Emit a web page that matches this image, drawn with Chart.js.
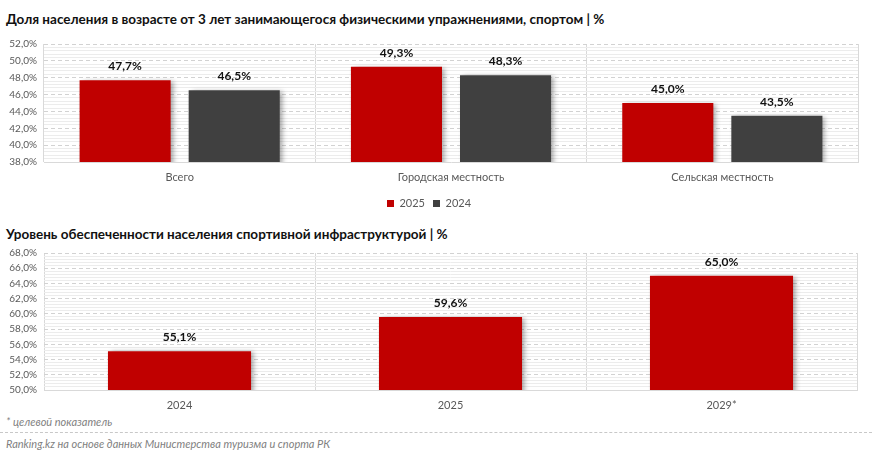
<!DOCTYPE html>
<html>
<head>
<meta charset="utf-8">
<script src="https://cdn.jsdelivr.net/npm/chart.js@4.4.1/dist/chart.umd.min.js"></script>
<style>
  body { margin: 0; width: 872px; height: 458px; background: #fff; position: relative; overflow: hidden; font-family: Lato, "Liberation Sans", sans-serif; }
  .title { position: absolute; left: 6px; font-weight: bold; font-size: 13.5px; color: #111; white-space: nowrap; }
  .note { position: absolute; left: 6px; font-style: italic; font-size: 11px; color: #7f7f7f; white-space: nowrap; }
  .box { position: absolute; left: 0; width: 872px; }
  #sep { position: absolute; left: 0; top: 432px; width: 872px; border-top: 1px dashed #c8c8c8; }
</style>
</head>
<body>
<div class="title" style="top:11px">Доля населения в возрасте от 3 лет занимающегося физическими упражнениями, спортом | %</div>
<div class="box" style="top:30px;height:189px"><canvas id="sport"></canvas></div>
<div class="title" style="top:226px">Уровень обеспеченности населения спортивной инфраструктурой | %</div>
<div class="box" style="top:240px;height:175px"><canvas id="infra"></canvas></div>
<div class="note" style="top:415px">* целевой показатель</div>
<div id="sep"></div>
<div class="note" style="top:437px">Ranking.kz на основе данных Министерства туризма и спорта РК</div>

<script>
// top chart
var groups = ['Всего', 'Городская местность', 'Сельская местность'];
var share2025 = [47.7, 49.3, 45.0];
var share2024 = [46.5, 48.3, 43.5];
var sportTicks = [38, 40, 42, 44, 46, 48, 50, 52];

// bottom chart
var infraYears = ['2024', '2025', '2029*'];
var infraValues = [55.1, 59.6, 65.0];
var infraTicks = [50, 52, 54, 56, 58, 60, 62, 64, 66, 68];

var minorStep = 0.4;
var RED = '#c00000';
var GREY = '#404040';

function pct(v) {
    return v.toFixed(1).replace('.', ',') + '%';
}

function isMajor(v, majors) {
    return majors.some(function (m) { return Math.abs(m - v) < 1e-6; });
}

var barShadow = {
    id: 'barShadow',
    beforeDatasetsDraw: function (chart) {
        var c = chart.ctx;
        c.save();
        c.shadowColor = 'rgba(0,0,0,0.35)';
        c.shadowBlur = 5;
        c.shadowOffsetX = 3;
        c.shadowOffsetY = 1;
    },
    afterDatasetsDraw: function (chart) {
        chart.ctx.restore();
    }
};

var valueLabels = {
    id: 'valueLabels',
    afterDatasetsDraw: function (chart) {
        var c = chart.ctx;
        c.save();
        c.font = 'bold 12px Lato, sans-serif';
        c.fillStyle = '#111';
        c.textAlign = 'center';
        c.textBaseline = 'middle';
        chart.data.datasets.forEach(function (ds, i) {
            chart.getDatasetMeta(i).data.forEach(function (bar, j) {
                c.fillText(pct(ds.data[j]), bar.x, bar.y - 14);
            });
        });
        c.restore();
    }
};

function yAxis(majors) {
    var lo = majors[0], hi = majors[majors.length - 1];
    return {
        min: lo,
        max: hi,
        afterBuildTicks: function (s) {
            var t = [];
            var n = Math.round((hi - lo) / minorStep);
            for (var i = 0; i <= n; i++) t.push({ value: +(lo + i * minorStep).toFixed(2) });
            s.ticks = t;
        },
        afterFit: function (s) { s.width = 44; },
        ticks: {
            autoSkip: false,
            padding: 7,
            color: '#595959',
            font: { size: 10, family: 'Lato' },
            callback: function (v) { return isMajor(v, majors) ? pct(v) : ''; }
        },
        grid: {
            drawTicks: false,
            color: function (ctx) {
                var v = ctx.tick.value;
                if (Math.abs(v - lo) < 1e-6) return 'rgba(0,0,0,0)';
                return isMajor(v, majors) ? '#d2d2d2' : '#ececec';
            }
        },
        border: {
            display: false,
            dash: function (ctx) { return isMajor(ctx.tick.value, majors) ? [4, 3] : []; }
        }
    };
}

function xAxis(h) {
    return {
        afterFit: function (s) { s.height = h; },
        grid: { offset: true, drawTicks: false, color: '#d9d9d9' },
        border: { color: '#d9d9d9' },
        ticks: { padding: 9, color: '#595959', font: { size: 11, family: 'Lato' } }
    };
}

new Chart(document.getElementById('sport'), {
    type: 'bar',
    data: {
        labels: groups,
        datasets: [
            { label: '2025', data: share2025, backgroundColor: RED, categoryPercentage: 0.804, barPercentage: 0.835 },
            { label: '2024', data: share2024, backgroundColor: GREY, categoryPercentage: 0.804, barPercentage: 0.835 }
        ]
    },
    options: {
        responsive: true,
        maintainAspectRatio: false,
        animation: false,
        layout: { padding: { top: 14, right: 14, left: 0, bottom: 0 } },
        plugins: {
            legend: {
                position: 'bottom',
                labels: { boxWidth: 7, boxHeight: 7, padding: 8, color: '#595959', font: { size: 11, family: 'Lato' } }
            },
            tooltip: { enabled: false }
        },
        scales: { x: xAxis(28), y: yAxis(sportTicks) }
    },
    plugins: [barShadow, valueLabels]
});

new Chart(document.getElementById('infra'), {
    type: 'bar',
    data: {
        labels: infraYears,
        datasets: [
            { label: 'infra', data: infraValues, backgroundColor: RED, categoryPercentage: 0.8, barPercentage: 0.66 }
        ]
    },
    options: {
        responsive: true,
        maintainAspectRatio: false,
        animation: false,
        layout: { padding: { top: 13, right: 15, left: 0, bottom: 0 } },
        plugins: { legend: { display: false }, tooltip: { enabled: false } },
        scales: { x: xAxis(25), y: yAxis(infraTicks) }
    },
    plugins: [barShadow, valueLabels]
});
</script>
</body>
</html>
